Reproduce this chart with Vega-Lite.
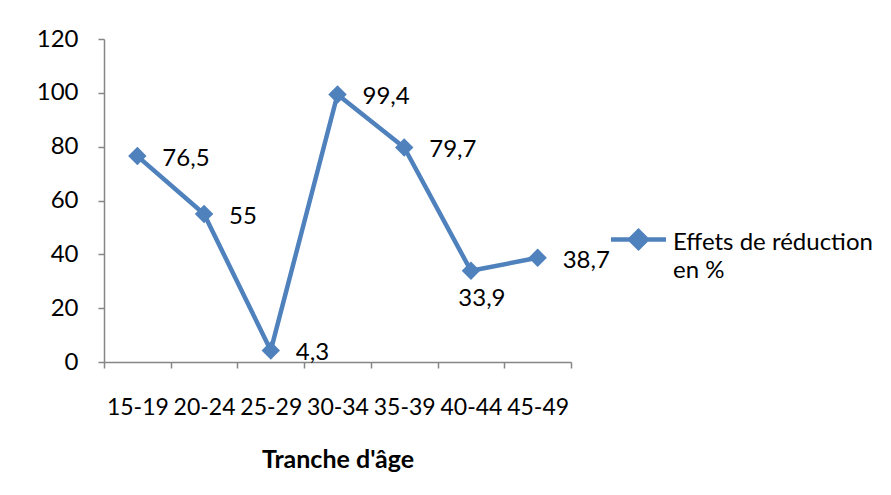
{
  "$schema": "https://vega.github.io/schema/vega-lite/v6.json",
  "width": 467,
  "height": 323,
  "autosize": {"type": "none"},
  "padding": {"left": 104, "top": 39, "right": 320, "bottom": 133},
  "background": "white",
  "config": {
    "view": {"stroke": null},
    "font": "Lato",
    "point": {"shape": "diamond"},
    "style": {"guide-label": {"lineHeight": 28}},
    "locale": {
      "number": {"decimal": ",", "thousands": " ", "grouping": [3], "currency": ["", " €"]}
    }
  },
  "data": {
    "values": [
      {"tranche": "15-19", "effet": 76.5, "serie": "Effets de réduction en %"},
      {"tranche": "20-24", "effet": 55, "serie": "Effets de réduction en %"},
      {"tranche": "25-29", "effet": 4.3, "serie": "Effets de réduction en %"},
      {"tranche": "30-34", "effet": 99.4, "serie": "Effets de réduction en %"},
      {"tranche": "35-39", "effet": 79.7, "serie": "Effets de réduction en %"},
      {"tranche": "40-44", "effet": 33.9, "serie": "Effets de réduction en %"},
      {"tranche": "45-49", "effet": 38.7, "serie": "Effets de réduction en %"}
    ]
  },
  "encoding": {
    "x": {
      "field": "tranche",
      "type": "ordinal",
      "sort": null,
      "scale": {"paddingInner": 0, "paddingOuter": 0},
      "axis": {
        "title": "Tranche d'âge",
        "titleFontWeight": "bold",
        "titleFontSize": 25,
        "titleColor": "black",
        "titlePadding": 28,
        "labelAngle": 0,
        "labelFontSize": 23,
        "labelColor": "black",
        "labelPadding": 28,
        "tickSize": 6,
        "tickBand": "extent",
        "tickColor": "#868686",
        "domainColor": "#868686",
        "domainWidth": 1.5,
        "tickWidth": 1.5,
        "grid": false
      }
    },
    "y": {
      "field": "effet",
      "type": "quantitative",
      "scale": {"domain": [0, 120], "nice": false},
      "axis": {
        "title": null,
        "values": [0, 20, 40, 60, 80, 100, 120],
        "labelFontSize": 24,
        "labelColor": "black",
        "labelPadding": 20,
        "tickSize": 6,
        "tickColor": "#868686",
        "domainColor": "#868686",
        "domainWidth": 1.5,
        "tickWidth": 1.5,
        "grid": false
      }
    }
  },
  "layer": [
    {
      "mark": {"type": "line", "color": "#4F81BD", "strokeWidth": 4.5, "strokeJoin": "round"},
      "encoding": {}
    },
    {
      "mark": {"type": "point", "filled": true, "size": 340, "opacity": 1},
      "encoding": {
        "color": {
          "field": "serie",
          "type": "nominal",
          "scale": {"range": ["#4F81BD"]},
          "legend": {
            "title": null,
            "orient": "none",
            "legendX": 507,
            "legendY": 176,
            "padding": 0,
            "symbolType": "M-1,-0.192L-0.338,-0.192L0,-0.53L0.338,-0.192L1,-0.192L1,-0.028L0.338,-0.028L0,0.31L-0.338,-0.028L-1,-0.028Z",
            "symbolSize": 3025,
            "symbolStrokeWidth": 0,
            "labelFontSize": 24,
            "labelColor": "black",
            "labelLimit": 400,
            "labelOffset": 7,
            "labelExpr": "['Effets de réduction', 'en %']"
          }
        }
      }
    },
    {
      "transform": [{"filter": "datum.tranche !== '40-44'"}],
      "mark": {"type": "text", "align": "left", "baseline": "middle", "dx": 25, "dy": 3, "fontSize": 24, "color": "black"},
      "encoding": {"text": {"field": "effet", "type": "quantitative"}}
    },
    {
      "transform": [{"filter": "datum.tranche === '40-44'"}],
      "mark": {"type": "text", "align": "center", "baseline": "middle", "dx": 11, "dy": 28, "fontSize": 24, "color": "black"},
      "encoding": {"text": {"field": "effet", "type": "quantitative"}}
    }
  ]
}
